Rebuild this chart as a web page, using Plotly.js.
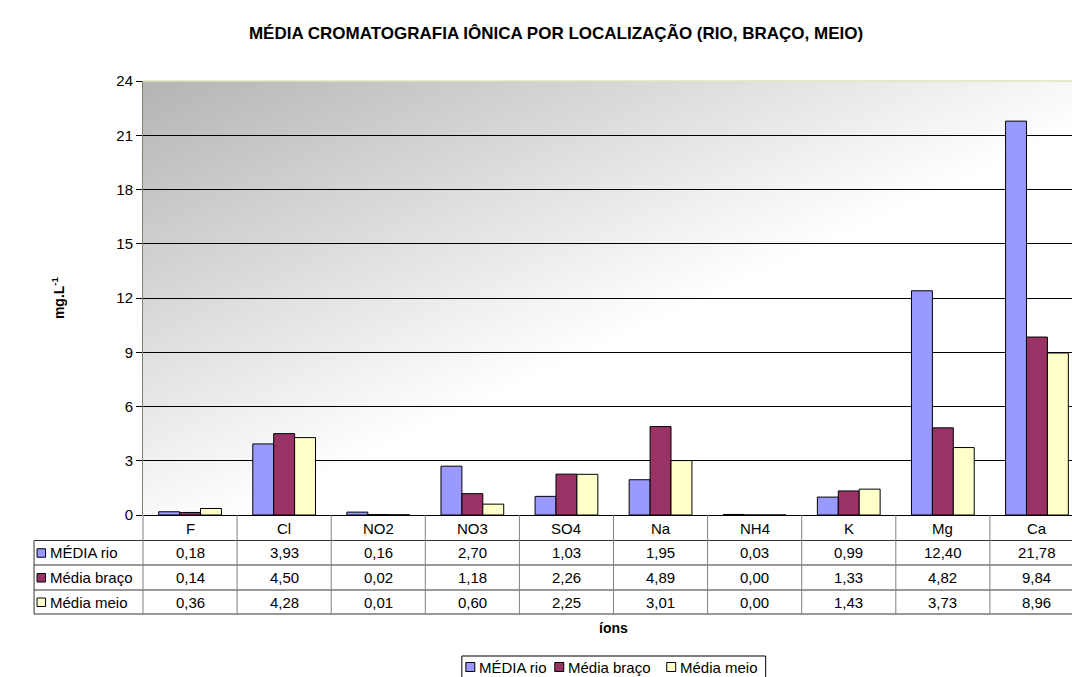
<!DOCTYPE html>
<html>
<head>
<meta charset="utf-8">
<script src="https://cdn.plot.ly/plotly-3.0.1.min.js"></script>
<style>
html,body{margin:0;padding:0;overflow:hidden;background:#fff;}
#chart{width:1100px;height:677px;}
</style>
</head>
<body>
<div id="chart"></div>
<script>
const categories = ['F','Cl','NO2','NO3','SO4','Na','NH4','K','Mg','Ca'];
const seriesNames = ['MÉDIA rio','Média braço','Média meio'];
const mediaRio   = [0.18, 3.93, 0.16, 2.70, 1.03, 1.95, 0.03, 0.99, 12.40, 21.78];
const mediaBraco = [0.14, 4.50, 0.02, 1.18, 2.26, 4.89, 0.00, 1.33, 4.82, 9.84];
const mediaMeio  = [0.36, 4.28, 0.01, 0.60, 2.25, 3.01, 0.00, 1.43, 3.73, 8.96];
const colors = ['#9999FF','#993366','#FFFFCC'];
const allSeries = [mediaRio, mediaBraco, mediaMeio];

const FONT = 'Liberation Sans, Arial, sans-serif';
const W = 1100, H = 677;
const L = 143, R = 1084.5, T = 81, B = 515;
const pw = R - L, ph = B - T;
const xp = px => (px - L) / pw;
const yp = py => (B - py) / ph;
const TXT = 15;

const traces = allSeries.map((vals, i) => ({
  type: 'bar', name: seriesNames[i], x: categories, y: vals,
  marker: {color: colors[i], line: {color: '#000', width: 1}},
  hoverinfo: 'x+y+name', showlegend: false
}));

const shapes = [];
const annotations = [];
const N = categories.length;

// top border of plot area
shapes.push({type:'line', xref:'paper', yref:'paper', x0:0, x1:1, y0:1, y1:1, line:{color:'#E2E2BE', width:1.5}, layer:'above'});

// table rows (pixel y)
const rowTop = [515, 540.5, 565, 590, 614];
for (let r = 1; r < rowTop.length; r++) {
  shapes.push({type:'line', xref:'paper', yref:'paper', x0:xp(34), x1:xp(1100), y0:yp(rowTop[r]), y1:yp(rowTop[r]), line:{color:'#333', width:1}});
}
for (let i = 0; i <= N; i++) {
  shapes.push({type:'line', xref:'paper', yref:'paper', x0:i/N, x1:i/N, y0:yp(515), y1:yp(614), line:{color:'#808080', width:1}});
}
shapes.push({type:'line', xref:'paper', yref:'paper', x0:xp(34), x1:xp(34), y0:yp(540.5), y1:yp(614), line:{color:'#333', width:1}});

categories.forEach(c => {
  annotations.push({xref:'x', yref:'paper', x:c, y:yp(528), xanchor:'center', yanchor:'middle', text:c, showarrow:false, font:{family:FONT, size:TXT, color:'#000'}});
});

const fmt = v => v.toFixed(2).replace('.', ',');
allSeries.forEach((vals, r) => {
  const cy = (rowTop[r+1] + rowTop[r+2]) / 2;
  shapes.push({type:'rect', xref:'paper', yref:'paper', x0:xp(37), x1:xp(45.5), y0:yp(cy-4), y1:yp(cy+4.5), fillcolor:colors[r], line:{color:'#000', width:1}});
  annotations.push({xref:'paper', yref:'paper', x:xp(48), y:yp(cy), xanchor:'left', yanchor:'middle', text:seriesNames[r], showarrow:false, font:{family:FONT, size:TXT, color:'#000'}});
  vals.forEach((v, i) => {
    annotations.push({xref:'x', yref:'paper', x:categories[i], y:yp(cy), xanchor:'center', yanchor:'middle', text:fmt(v), showarrow:false, font:{family:FONT, size:TXT, color:'#000'}});
  });
});

// x axis title
annotations.push({xref:'paper', yref:'paper', x:0.5, y:yp(628), xanchor:'center', yanchor:'middle', text:'<b>íons</b>', showarrow:false, font:{family:FONT, size:14, color:'#000'}});

// bottom legend (manual)
shapes.push({type:'rect', xref:'paper', yref:'paper', x0:xp(462), x1:xp(766), y0:yp(656), y1:yp(679), line:{color:'#000', width:1}, fillcolor:'rgba(0,0,0,0)'});
const legX = [466, 555, 667];
seriesNames.forEach((n, i) => {
  const cy = 667;
  shapes.push({type:'rect', xref:'paper', yref:'paper', x0:xp(legX[i]), x1:xp(legX[i]+9), y0:yp(cy-4.5), y1:yp(cy+4.5), fillcolor:colors[i], line:{color:'#000', width:1}});
  annotations.push({xref:'paper', yref:'paper', x:xp(legX[i]+11), y:yp(cy), xanchor:'left', yanchor:'middle', text:n, showarrow:false, font:{family:FONT, size:TXT, color:'#000'}});
});

const gradSvg = '<svg xmlns="http://www.w3.org/2000/svg" width="100" height="100" preserveAspectRatio="none">' +
  '<defs><linearGradient id="g" x1="0" y1="0" x2="1" y2="1">' +
  '<stop offset="0" stop-color="#b4b4b4"/><stop offset="0.55" stop-color="#ffffff"/><stop offset="1" stop-color="#ffffff"/>' +
  '</linearGradient></defs><rect width="100" height="100" fill="url(#g)"/></svg>';

const layout = {
  width: W, height: H,
  margin: {l: L, r: W - R, t: T, b: H - B, pad: 0},
  paper_bgcolor: '#fff', plot_bgcolor: 'rgba(0,0,0,0)',
  font: {family: FONT, size: TXT, color: '#000'},
  title: {text: '<b>MÉDIA CROMATOGRAFIA IÔNICA POR LOCALIZAÇÃO (RIO, BRAÇO, MEIO)</b>', x: 556 / W, xanchor: 'center', y: 1 - 33 / H, yanchor: 'middle', font: {family: FONT, size: 17, color: '#000'}},
  barmode: 'group', bargap: 0.333, bargroupgap: 0,
  xaxis: {type: 'category', showticklabels: false, ticks: '', showgrid: false, showline: false, zeroline: false, range: [-0.5, N - 0.5], fixedrange: true},
  yaxis: {range: [0, 24], dtick: 3, tick0: 0, showgrid: true, gridcolor: '#000', gridwidth: 1, zeroline: true, zerolinecolor: '#000', zerolinewidth: 1,
          showline: true, linecolor: '#808070', linewidth: 1, ticks: 'outside', ticklen: 6, tickcolor: '#000', tickfont: {family: FONT, size: TXT},
          title: {text: '<b>mg.L<sup>-1</sup></b>', font: {family: FONT, size: 14}, standoff: 48}, automargin: false, fixedrange: true},
  images: [{source: 'data:image/svg+xml;charset=utf-8,' + encodeURIComponent(gradSvg), xref: 'paper', yref: 'paper', x: 0, y: 1, sizex: 1, sizey: 1, sizing: 'stretch', xanchor: 'left', yanchor: 'top', layer: 'below'}],
  shapes: shapes, annotations: annotations, showlegend: false
};

Plotly.newPlot('chart', traces, layout, {displayModeBar: false, staticPlot: true});
</script>
</body>
</html>
